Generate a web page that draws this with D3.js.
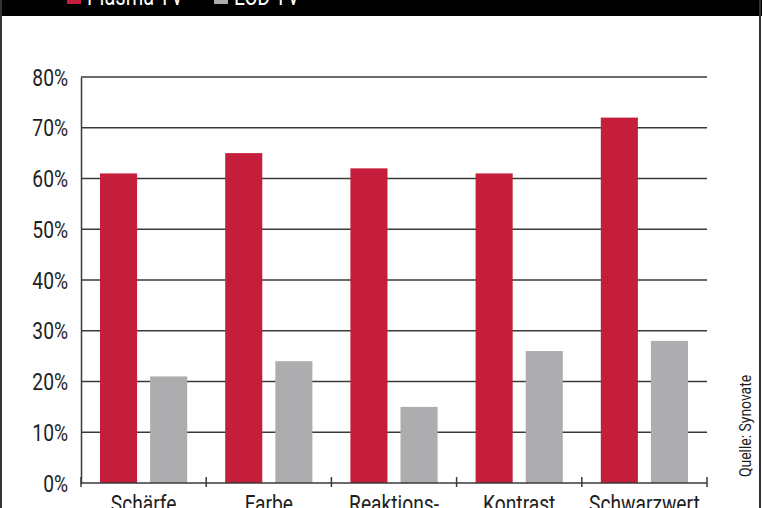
<!DOCTYPE html>
<html lang="de">
<head>
    <meta charset="UTF-8">
    <title>Plasma TV vs. LCD TV</title>
    <script src="https://d3js.org/d3.v7.min.js"></script>
    <style>
        body { margin: 0; background: #fff; }
        svg { display: block; }
        .label { font-family: "Roboto", "DejaVu Sans Condensed", sans-serif; }
    </style>
</head>
<body>
    <svg id="chart"></svg>
    <script>
        // Daten
        const categories = ["Schärfe", "Farbe", "Reaktions-", "Kontrast", "Schwarzwert"];
        const seriesNames = ["Plasma TV", "LCD TV"];
        const plasma = [61, 65, 62, 61, 72];
        const lcd = [21, 24, 15, 26, 28];
        const yTicks = [0, 10, 20, 30, 40, 50, 60, 70, 80];
        const source = "Quelle: Synovate";

        const colors = ["#c41e3c", "#adadaf"];
        const W = 762, H = 508;
        const margin = { top: 77, left: 81 };
        const width = 707 - margin.left;
        const height = 483 - margin.top;
        const squeeze = 0.8; // condensed look

        const svg = d3.select("#chart").attr("width", W).attr("height", H);

        // narrow text: a group with horizontal squeeze
        function label(parent, x, yPos, str, size, anchor, fill) {
            return parent.append("g")
                .attr("transform", `translate(${x},${yPos}) scale(${squeeze},1)`)
                .append("text")
                .attr("class", "label")
                .attr("text-anchor", anchor)
                .attr("fill", fill || "#1e1e1e")
                .style("font-size", size + "px")
                .text(str);
        }

        // frame + header
        svg.append("rect").attr("x", 0).attr("y", 0).attr("width", W).attr("height", 16).attr("fill", "#000");
        svg.append("line").attr("x1", 1).attr("x2", 1).attr("y1", 0).attr("y2", H).attr("stroke", "#333").attr("stroke-width", 2);
        svg.append("line").attr("x1", 760).attr("x2", 760).attr("y1", 0).attr("y2", H).attr("stroke", "#333").attr("stroke-width", 2);

        // legend (cut off at top, like the reference)
        const legendX = [67, 214];
        seriesNames.forEach((name, i) => {
            svg.append("rect")
                .attr("x", legendX[i]).attr("y", -10)
                .attr("width", 14).attr("height", 14)
                .attr("fill", colors[i]);
            label(svg, legendX[i] + 20, 5, name, 25, "start", "#fff");
        });

        const g = svg.append("g").attr("transform", `translate(${margin.left},${margin.top})`);

        const x0 = d3.scaleBand().domain(categories).range([0, width]);
        const x1 = d3.scaleBand().domain(seriesNames).range([19, x0.bandwidth() - 19]).paddingInner(0.26);
        const y = d3.scaleLinear().domain([0, 80]).range([height, 0]);

        // gridlines
        g.append("g")
            .selectAll("line")
            .data(yTicks.filter(d => d > 0))
            .enter().append("line")
            .attr("x1", 0).attr("x2", width)
            .attr("y1", d => y(d)).attr("y2", d => y(d))
            .attr("stroke", "#3a3a3a").attr("stroke-width", 1.5);

        // bars
        const groups = g.selectAll(".grp")
            .data(categories)
            .enter().append("g")
            .attr("transform", d => `translate(${x0(d)},0)`);

        groups.selectAll("rect")
            .data((d, i) => [plasma[i], lcd[i]])
            .enter().append("rect")
            .attr("x", (d, j) => x1(seriesNames[j]))
            .attr("y", d => y(d))
            .attr("width", x1.bandwidth())
            .attr("height", d => height - y(d))
            .attr("fill", (d, j) => colors[j]);

        // y axis
        const yAxis = g.append("g")
            .call(d3.axisLeft(y).tickValues(yTicks).tickFormat("").tickSize(0));
        yAxis.select(".domain").attr("stroke", "#3a3a3a").attr("stroke-width", 1.5);
        yTicks.forEach(t => {
            label(g, -13, y(t) + 8.5, t + "%", 24, "end");
        });

        // x axis
        const boundaries = categories.map(c => x0(c)).concat([width]);
        const xAxis = g.append("g").attr("transform", `translate(0,${height})`);
        xAxis.append("line")
            .attr("x1", 0).attr("x2", width)
            .attr("stroke", "#3a3a3a").attr("stroke-width", 1.5);
        xAxis.selectAll(".tick")
            .data(boundaries)
            .enter().append("line")
            .attr("x1", d => d).attr("x2", d => d)
            .attr("y1", -6).attr("y2", 4)
            .attr("stroke", "#3a3a3a").attr("stroke-width", 1.5);
        categories.forEach(c => {
            label(xAxis, x0(c) + x0.bandwidth() / 2, 29, c, 24, "middle");
        });

        // source
        svg.append("g")
            .attr("transform", "translate(751,426) rotate(-90) scale(0.82,1)")
            .append("text")
            .attr("class", "label")
            .attr("text-anchor", "middle")
            .attr("fill", "#1e1e1e")
            .style("font-size", "17px")
            .text(source);
    </script>
</body>
</html>
